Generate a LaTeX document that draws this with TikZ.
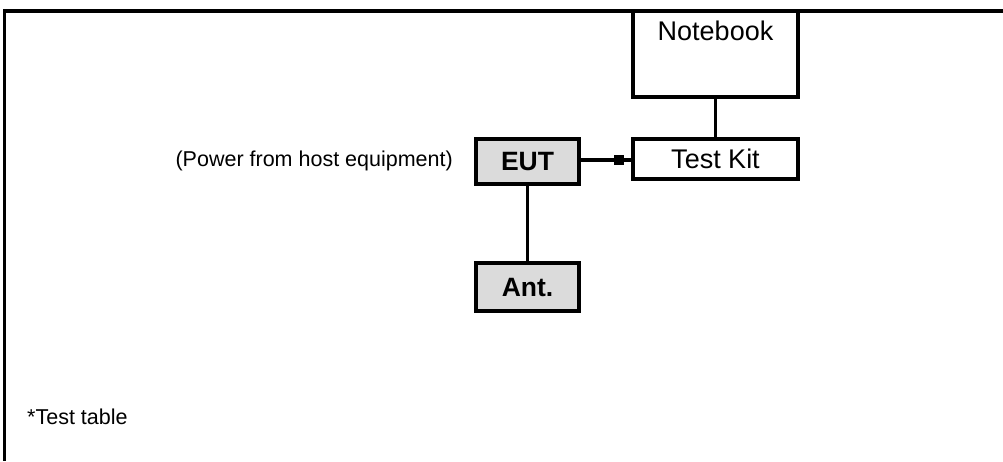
\documentclass[tikz,border=0pt]{standalone}
\usepackage{fontspec}
\setmainfont{Liberation Sans}
\begin{document}
\begin{tikzpicture}[x=1pt,y=-1pt,
  box/.style={draw=black, line width=3.2pt, fill=white, inner sep=0pt, font=\fontsize{27}{32}\selectfont},
  gbox/.style={box, fill=gray!28, font=\fontsize{26.5}{32}\selectfont\bfseries},
  note/.style={font=\fontsize{21.5}{26}\selectfont, inner sep=0pt},
  wire/.style={line width=3.2pt}]
\useasboundingbox (0,0) rectangle (1003,461);
% frame
\draw[line width=3.5pt] (1003,11) -- (4.5,11) -- (4.5,461);
% nodes
\node[box, minimum width=165pt, minimum height=86pt, inner sep=10pt, text height=19pt, text depth=47pt] (nb) at (715.5,54) {Notebook};
\node[box, minimum width=165pt, minimum height=40pt] (kit) at (715.5,159) {Test Kit};
\node[gbox, minimum width=103pt, minimum height=45pt] (eut) at (527.5,161.5) {EUT};
\node[gbox, minimum width=103pt, minimum height=48pt] (ant) at (527.5,287) {Ant.};
\node[note, anchor=east] (pw) at (453,161) {(Power from host equipment)};
\node[note, anchor=west] (tt) at (27,417) {*Test table};
% connectors
\draw[wire] (nb.south) -- (kit.north);
\draw[wire] (eut.south) -- (ant.north);
\node[fill=black, minimum size=10pt, inner sep=0pt] (sq) at (619,160) {};
\draw[wire] (eut.east |- sq) -- (sq.west);
\draw[wire] (sq.east) -- (kit.west |- sq);
\end{tikzpicture}
\end{document}
